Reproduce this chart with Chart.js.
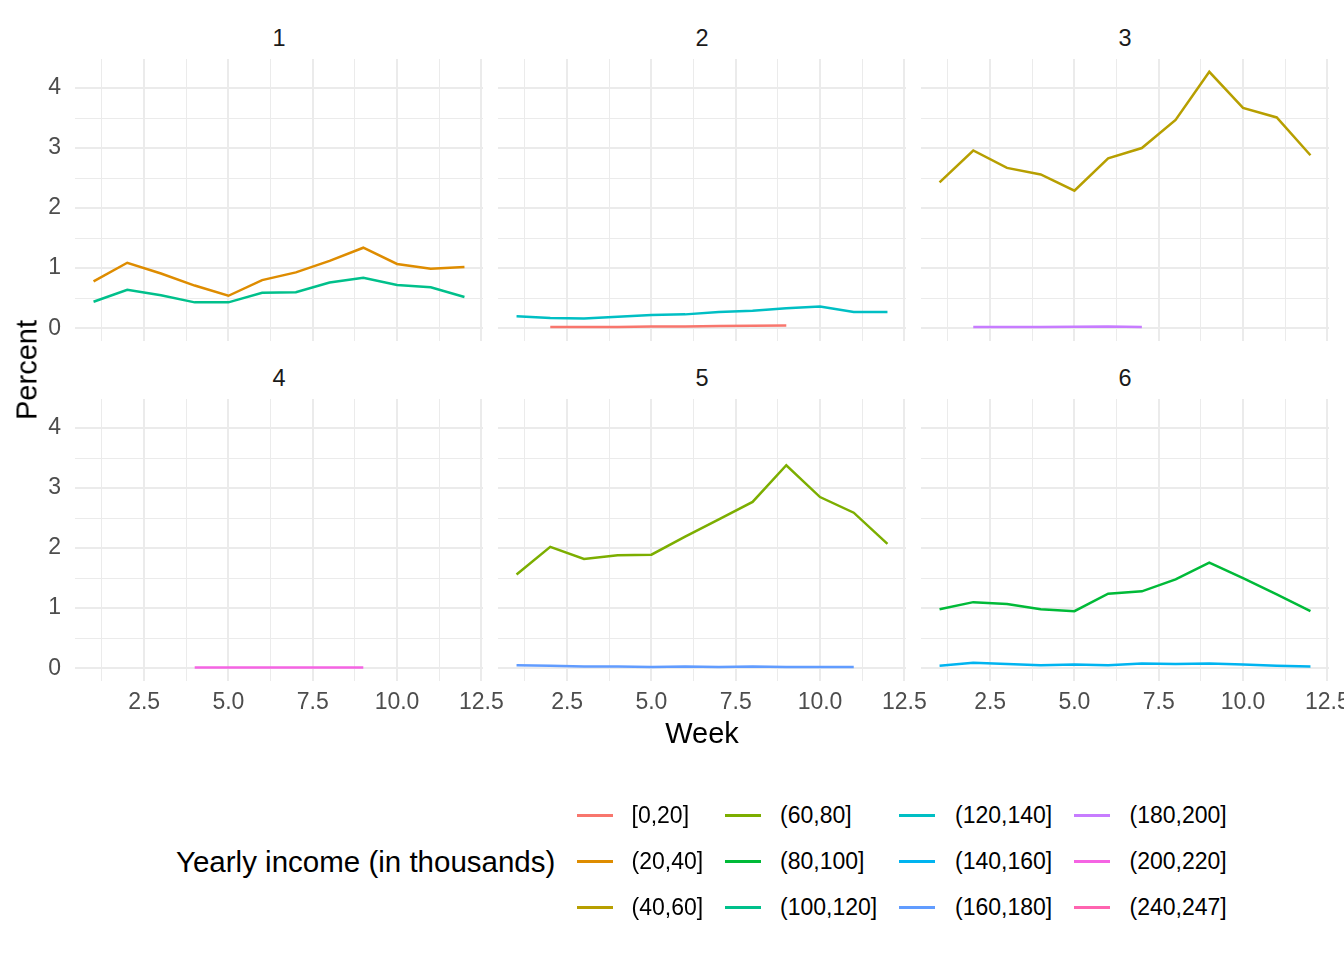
<!DOCTYPE html>
<html>
<head>
<meta charset="utf-8">
<script src="https://cdn.jsdelivr.net/npm/chart.js@4.4.1/dist/chart.umd.min.js"></script>
<style>
html,body{margin:0;padding:0;background:#ffffff;width:1344px;height:960px;overflow:hidden;}
body{position:relative;font-family:"Liberation Sans",Arial,Helvetica,sans-serif;}
.box{position:absolute;}
.txt{position:absolute;white-space:nowrap;line-height:1;}
.key{position:absolute;height:3px;}
</style>
</head>
<body>
<script>
// ---------------- data ----------------
const weeks = [1, 2, 3, 4, 5, 6, 7, 8, 9, 10, 11, 12];
const incomeLevels = ['[0,20]', '(20,40]', '(40,60]', '(60,80]', '(80,100]', '(100,120]',
  '(120,140]', '(140,160]', '(160,180]', '(180,200]', '(200,220]', '(240,247]'];
const levelColors = ['#F8766D', '#DE8C00', '#B79F00', '#7CAE00', '#00BA38', '#00C08B',
  '#00BFC4', '#00B4F0', '#619CFF', '#C77CFF', '#F564E3', '#FF64B0'];
const panelNames = ['1', '2', '3', '4', '5', '6'];
const xTicks = [1.25, 2.5, 3.75, 5, 6.25, 7.5, 8.75, 10, 11.25, 12.5];
const xMajorTicks = [2.5, 5, 7.5, 10, 12.5];
const yTicks = [0, 0.5, 1, 1.5, 2, 2.5, 3, 3.5, 4];
const yMajorTicks = [0, 1, 2, 3, 4];

// series values per week (null = no observation)
const inc0_20    = [null, 0.02, 0.02, 0.02, 0.03, 0.03, 0.035, 0.04, 0.045, null, null, null];
const inc20_40   = [0.78, 1.09, 0.91, 0.71, 0.54, 0.80, 0.93, 1.12, 1.34, 1.07, 0.99, 1.02];
const inc40_60   = [2.43, 2.96, 2.67, 2.56, 2.29, 2.83, 3.00, 3.47, 4.27, 3.67, 3.51, 2.88];
const inc60_80   = [1.56, 2.02, 1.82, 1.88, 1.89, 2.19, 2.48, 2.77, 3.38, 2.85, 2.59, 2.07];
const inc80_100  = [0.98, 1.10, 1.07, 0.98, 0.95, 1.24, 1.28, 1.48, 1.76, 1.50, 1.23, 0.95];
const inc100_120 = [0.44, 0.64, 0.55, 0.43, 0.43, 0.59, 0.60, 0.76, 0.84, 0.72, 0.68, 0.52];
const inc120_140 = [0.20, 0.17, 0.16, 0.19, 0.22, 0.23, 0.27, 0.29, 0.33, 0.36, 0.27, 0.27];
const inc140_160 = [0.04, 0.09, 0.07, 0.05, 0.06, 0.05, 0.08, 0.07, 0.08, 0.06, 0.04, 0.03];
const inc160_180 = [0.05, 0.04, 0.03, 0.03, 0.02, 0.03, 0.02, 0.03, 0.02, 0.02, 0.02, null];
const inc180_200 = [null, 0.02, 0.02, 0.02, 0.025, 0.03, 0.02, null, null, null, null, null];
const inc200_220 = [null, null, null, 0.01, 0.01, 0.01, 0.01, 0.01, 0.01, null, null, null];

// which income levels appear in each facet panel
const panel1 = [[1, inc20_40], [5, inc100_120]];
const panel2 = [[0, inc0_20], [6, inc120_140]];
const panel3 = [[2, inc40_60], [9, inc180_200]];
const panel4 = [[10, inc200_220]];
const panel5 = [[3, inc60_80], [8, inc160_180]];
const panel6 = [[4, inc80_100], [7, inc140_160]];
const panels = [panel1, panel2, panel3, panel4, panel5, panel6];

// ---------------- layout ----------------
const FONT = '"Liberation Sans", Arial, Helvetica, sans-serif';
const PANEL_X = [75, 498, 921];
const PANEL_Y = [59, 399];
const PANEL_W = 408, PANEL_H = 282;
const AXIS_L = 75, AXIS_B = 46, RIGHT_EXTRA = 40;
const X_MIN = 0.45, X_MAX = 12.55, Y_MIN = -0.2135, Y_MAX = 4.4835;

function addText(str, x, y, size, color, transform, align) {
  const d = document.createElement('div');
  d.className = 'txt';
  d.textContent = str;
  d.style.left = x + 'px';
  d.style.top = y + 'px';
  d.style.fontSize = size + 'px';
  d.style.color = color;
  d.style.transform = transform || 'translate(-50%,-50%)';
  if (align) d.style.textAlign = align;
  document.body.appendChild(d);
  return d;
}

function isIn(arr, v) { return arr.some(a => Math.abs(a - v) < 1e-9); }

function makeOptions(showX, showY) {
  return {
    responsive: true,
    maintainAspectRatio: false,
    animation: false,
    events: [],
    layout: { padding: { left: 0, right: showX ? RIGHT_EXTRA : 0, top: 0, bottom: 0 } },
    plugins: { legend: { display: false }, tooltip: { enabled: false }, title: { display: false } },
    elements: { point: { radius: 0 }, line: { tension: 0 } },
    scales: {
      x: {
        type: 'linear', min: X_MIN, max: X_MAX,
        afterBuildTicks: s => { s.ticks = xTicks.map(v => ({ value: v })); },
        afterFit: s => {
          s.height = showX ? AXIS_B : 0;
          s.paddingLeft = 0; s.paddingRight = 0; s.paddingTop = 0; s.paddingBottom = 0;
        },
        grid: {
          color: '#EBEBEB', drawTicks: false,
          lineWidth: c => (c.tick && isIn(xMajorTicks, c.tick.value)) ? 2 : 1
        },
        border: { display: false },
        ticks: {
          display: showX, autoSkip: false, maxRotation: 0, minRotation: 0, padding: 8,
          color: '#4D4D4D', font: { family: FONT, size: 23 },
          callback: v => isIn(xMajorTicks, v) ? v.toFixed(1) : ''
        }
      },
      y: {
        type: 'linear', min: Y_MIN, max: Y_MAX,
        afterBuildTicks: s => { s.ticks = yTicks.map(v => ({ value: v })); },
        afterFit: s => {
          s.width = showY ? AXIS_L : 0;
          s.paddingLeft = 0; s.paddingRight = 0; s.paddingTop = 0; s.paddingBottom = 0;
        },
        grid: {
          color: '#EBEBEB', drawTicks: false,
          lineWidth: c => (c.tick && isIn(yMajorTicks, c.tick.value)) ? 2 : 1
        },
        border: { display: false },
        ticks: {
          display: showY, autoSkip: false, padding: 14,
          color: '#4D4D4D', font: { family: FONT, size: 23 },
          callback: v => isIn(yMajorTicks, v) ? String(v) : ''
        }
      }
    }
  };
}

panels.forEach((series, p) => {
  const row = Math.floor(p / 3), col = p % 3;
  const showY = col === 0, showX = row === 1;
  const left = PANEL_X[col] - (showY ? AXIS_L : 0);
  const top = PANEL_Y[row];
  const w = PANEL_W + (showY ? AXIS_L : 0) + (showX ? RIGHT_EXTRA : 0);
  const h = PANEL_H + (showX ? AXIS_B : 0);
  const box = document.createElement('div');
  box.className = 'box';
  box.style.left = left + 'px';
  box.style.top = top + 'px';
  box.style.width = w + 'px';
  box.style.height = h + 'px';
  const cv = document.createElement('canvas');
  box.appendChild(cv);
  document.body.appendChild(box);

  const datasets = series.map(([lvl, vals]) => ({
    label: incomeLevels[lvl],
    data: vals.map((v, i) => v == null ? null : { x: weeks[i], y: v }).filter(Boolean),
    borderColor: levelColors[lvl],
    backgroundColor: levelColors[lvl],
    borderWidth: 2.5,
    pointRadius: 0,
    fill: false
  }));
  new Chart(cv, { type: 'line', data: { datasets }, options: makeOptions(showX, showY) });

  // strip label
  addText(panelNames[p], PANEL_X[col] + PANEL_W / 2, PANEL_Y[row] - 20, 23.5, '#1A1A1A');
});

// axis titles
addText('Week', PANEL_X[0] + (PANEL_X[2] + PANEL_W - PANEL_X[0]) / 2, 733, 29, '#000000');
addText('Percent', 27, 370, 29, '#000000', 'translate(-50%,-50%) rotate(-90deg)');

// legend
const LEG_TITLE_X = 176, LEG_ROW_Y = [815, 861, 907];
const LEG_KEY_X = [577, 725, 899, 1074];
const LEG_LABEL_X = [631.5, 780, 955, 1129.5];
const KEY_W = 36;
addText('Yearly income (in thousands)', LEG_TITLE_X, 862, 29.5, '#000000', 'translate(0,-50%)');
incomeLevels.forEach((lab, i) => {
  const c = Math.floor(i / 3), r = i % 3;
  const k = document.createElement('div');
  k.className = 'key';
  k.style.left = LEG_KEY_X[c] + 'px';
  k.style.top = (LEG_ROW_Y[r] - 1) + 'px';
  k.style.width = KEY_W + 'px';
  k.style.background = levelColors[i];
  document.body.appendChild(k);
  addText(lab, LEG_LABEL_X[c], LEG_ROW_Y[r], 23, '#000000', 'translate(0,-50%)');
});
</script>
</body>
</html>
